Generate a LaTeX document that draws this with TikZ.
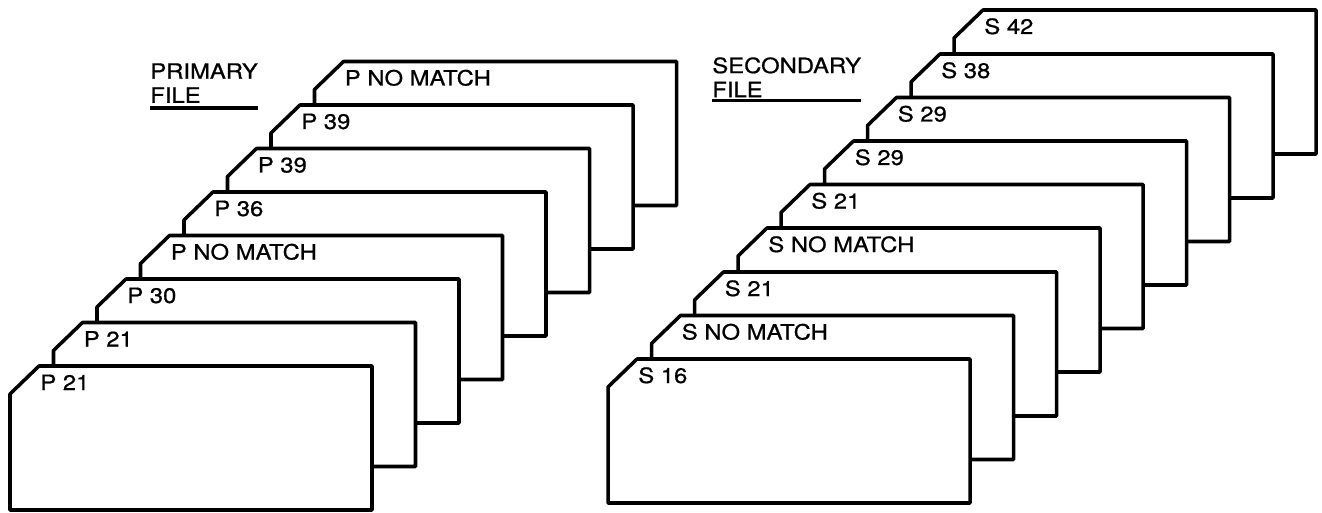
\documentclass[tikz,border=0pt]{standalone}
\usepackage{fontspec}
\setmainfont{TeX Gyre Heros}[FakeStretch=1.13, FakeBold=0.8]
\usetikzlibrary{positioning}

\begin{document}
\begin{tikzpicture}[
                cardline/.style={draw=black, line width=2pt, line join=round, fill=white},
                cardlabel/.style={anchor=base west, inner sep=0pt, font=\fontsize{12}{14}\selectfont},
                heading/.style={anchor=north west, inner sep=0pt, align=left, font=\fontsize{12}{13.7}\selectfont},
                rule/.style={line width=2pt},
                card/.pic={
                    \draw[cardline] (0,-0.56) -- (0.58,0) -- (7.24,0) -- (7.24,-2.88) -- (0,-2.88) -- cycle;
                    \node[cardlabel] (-lbl) at (0.6,-0.48) {#1};
                }
            ]
            \useasboundingbox (0,0) rectangle (26.44,10.24);

            % Primaerdatei, von hinten nach vorne
            \pic (p8) at (6.29,9.01) {card=P NO MATCH};
            \pic (p7) at (5.42,8.14) {card=P 39};
            \pic (p6) at (4.55,7.27) {card=P 39};
            \pic (p5) at (3.68,6.40) {card=P 36};
            \pic (p4) at (2.81,5.53) {card=P NO MATCH};
            \pic (p3) at (1.94,4.66) {card=P 30};
            \pic (p2) at (1.07,3.79) {card=P 21};
            \pic (p1) at (0.20,2.92) {card=P 21};

            % Sekundaerdatei, von hinten nach vorne
            \pic (s9) at (19.08,10.04) {card=S 42};
            \pic (s8) at (18.22,9.16) {card=S 38};
            \pic (s7) at (17.35,8.29) {card=S 29};
            \pic (s6) at (16.49,7.42) {card=S 29};
            \pic (s5) at (15.62,6.55) {card=S 21};
            \pic (s4) at (14.76,5.68) {card=S NO MATCH};
            \pic (s3) at (13.89,4.80) {card=S 21};
            \pic (s2) at (13.03,3.93) {card=S NO MATCH};
            \pic (s1) at (12.16,3.06) {card=S 16};

            % Ueberschriften
            \node[heading] (primhead) at (3.0,8.98) {PRIMARY\\FILE};
            \node[heading] (sechead) at (14.24,9.10) {SECONDARY\\FILE};
            \draw[rule] ([yshift=-0.1cm]primhead.south west) -- ([yshift=-0.1cm]primhead.south east);
            \draw[rule] ([yshift=-0.06cm]sechead.south west) -- ([yshift=-0.06cm]sechead.south east);

        \end{tikzpicture}
\end{document}
